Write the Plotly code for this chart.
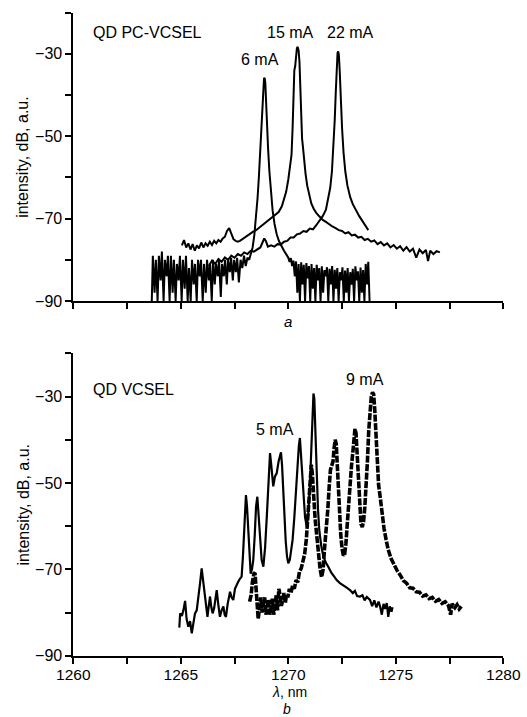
import plotly.graph_objects as go

# ---------------- Panel a: QD PC-VCSEL ----------------
x6 = [1263.65, 1263.70, 1263.78, 1263.84, 1263.92, 1263.98, 1264.06, 1264.12,
      1264.20, 1264.26, 1264.34, 1264.40, 1264.48, 1264.54, 1264.62, 1264.68,
      1264.76, 1264.82, 1264.90, 1264.96, 1265.04, 1265.10, 1265.18, 1265.24,
      1265.32, 1265.38, 1265.46, 1265.52, 1265.60, 1265.66, 1265.74, 1265.80,
      1265.88, 1265.94, 1266.02, 1266.08, 1266.16, 1266.22, 1266.30, 1266.36,
      1266.44, 1266.50, 1266.58, 1266.64, 1266.72, 1266.78, 1266.86, 1266.92,
      1267.00, 1267.06, 1267.14, 1267.20, 1267.28, 1267.34, 1267.42, 1267.48,
      1267.56, 1267.62, 1267.70, 1267.78, 1267.86, 1267.94, 1268.02, 1268.10,
      1268.18, 1268.26, 1268.34, 1268.42, 1268.50,
      1268.57, 1268.63, 1268.69, 1268.74, 1268.79, 1268.83, 1268.87, 1268.90,
      1268.93, 1268.97, 1269.01, 1269.06, 1269.12, 1269.19, 1269.27, 1269.36,
      1269.46, 1269.57, 1269.68, 1269.80, 1269.92,
      1270.00, 1270.06, 1270.12, 1270.18, 1270.24, 1270.30, 1270.36, 1270.42,
      1270.48, 1270.54, 1270.60, 1270.66, 1270.72, 1270.78, 1270.84, 1270.90,
      1270.96, 1271.02, 1271.08, 1271.14, 1271.20, 1271.26, 1271.32, 1271.38,
      1271.44, 1271.50, 1271.56, 1271.62, 1271.68, 1271.74, 1271.80, 1271.86,
      1271.92, 1271.98, 1272.04, 1272.10, 1272.16, 1272.22, 1272.28, 1272.34,
      1272.40, 1272.46, 1272.52, 1272.58, 1272.64, 1272.70, 1272.76, 1272.82,
      1272.88, 1272.94, 1273.00, 1273.06, 1273.12, 1273.18, 1273.24, 1273.30,
      1273.36, 1273.42, 1273.48, 1273.54, 1273.60, 1273.66, 1273.72, 1273.78]
y6 = [-90, -79, -88, -80, -90, -79, -85, -78,
      -90, -80, -84, -79, -90, -79, -88, -80,
      -90, -81, -85, -79, -90, -80, -87, -79,
      -90, -82, -90, -80, -86, -81, -90, -80,
      -84, -80, -90, -81, -88, -80, -85, -81,
      -90, -80, -86, -81, -84, -80, -89, -81,
      -84, -80, -86, -80, -83, -79.5, -85, -80,
      -83, -79.5, -85.5, -80, -82, -79, -81.5, -79.5,
      -80, -78.5, -77, -74, -70,
      -65, -60, -54, -48.5, -43, -38.5, -36, -35.8,
      -37, -42, -48, -53, -58.5, -63.5, -68, -71.3,
      -73.8, -75.5, -76.8, -77.8, -78.8,
      -79.5, -80.5, -79.6, -81.5, -80.2, -84.0, -80.4, -88.0,
      -81.0, -90, -80.6, -86, -81.2, -90, -80.8, -84.5,
      -81.5, -90, -81.0, -87, -82.0, -90, -81.2, -85,
      -82.0, -90, -81.6, -88, -82.5, -84, -81.8, -90,
      -82.2, -86, -81.5, -90, -82.4, -87, -82.0, -90,
      -83.0, -85, -81.8, -90, -82.6, -88, -82.0, -90,
      -83.0, -86, -82.2, -90, -81.6, -85, -82.8, -90,
      -81.9, -88, -82.5, -90, -81.0, -86, -80.5, -90]

x15 = [1265.05, 1265.15, 1265.25, 1265.35, 1265.45, 1265.55, 1265.65, 1265.75, 1265.85, 1265.95,
       1266.05, 1266.15, 1266.25, 1266.35, 1266.45, 1266.55, 1266.65, 1266.75, 1266.85, 1266.95,
       1267.05, 1267.15, 1267.25, 1267.35, 1267.45, 1267.55, 1267.65, 1267.75, 1267.85, 1267.95,
       1268.05,
       1268.2, 1268.35, 1268.5, 1268.65, 1268.8, 1268.95, 1269.1, 1269.25, 1269.4, 1269.55, 1269.7,
       1269.8, 1269.9, 1270.0, 1270.08, 1270.15, 1270.2, 1270.24, 1270.28, 1270.32, 1270.36,
       1270.4, 1270.44, 1270.48, 1270.52, 1270.56, 1270.6, 1270.64, 1270.68, 1270.73, 1270.8,
       1270.88, 1270.97, 1271.07, 1271.18, 1271.3,
       1271.45, 1271.6, 1271.75, 1271.9, 1272.05, 1272.2, 1272.35, 1272.5, 1272.65, 1272.8,
       1272.95, 1273.1, 1273.25, 1273.4, 1273.55, 1273.7, 1273.85, 1274.0, 1274.15, 1274.3,
       1274.45, 1274.6, 1274.75, 1274.9, 1275.05, 1275.2, 1275.35, 1275.5, 1275.65, 1275.8,
       1275.95, 1276.1, 1276.25, 1276.4,
       1276.5, 1276.6, 1276.75, 1276.9, 1277.05]
y15 = [-76.5, -75.2, -77.0, -76.0, -77.5, -76.2, -77.8, -76.5, -77.2, -75.8,
       -77.0, -76.0, -76.6, -75.6, -76.4, -75.4, -76.0, -75.2, -75.6, -74.8,
       -74.4, -73.0, -72.3, -73.8, -75.0, -75.4, -75.6, -75.4, -75.0, -74.6,
       -74.4,
       -73.6, -73.2, -72.8, -72.2, -71.4, -70.8, -70.3, -69.8, -69.2, -68.4, -67.0,
       -65.5, -63.5, -60.5, -57.5, -54.5, -48, -40, -34, -33, -30.5,
       -28.6, -28.3, -29.2, -32, -39, -46, -50.5, -52.5, -55.5, -59,
       -62, -64.5, -66.3, -67.6, -68.6,
       -69.5, -70.3, -70.8, -71.4, -71.9, -72.3, -72.8, -73.0, -73.6, -73.3,
       -74.1, -73.9, -74.6, -74.4, -75.2, -74.9, -75.6, -75.3, -76.2, -75.7,
       -76.5, -76.0, -77.0, -76.4, -77.3, -76.7, -77.8, -76.9, -78.0, -77.3,
       -79.5, -77.5, -78.4, -77.6,
       -80.3, -77.8, -78.6, -77.9, -78.2]

x22 = [1266.3, 1266.45, 1266.6, 1266.75, 1266.9, 1267.05, 1267.2, 1267.35, 1267.5, 1267.65,
       1267.8, 1267.95, 1268.1, 1268.25, 1268.4, 1268.55, 1268.7,
       1268.8, 1268.88, 1268.96, 1269.05,
       1269.2, 1269.35, 1269.5, 1269.65, 1269.8, 1269.95, 1270.1, 1270.25, 1270.4, 1270.55,
       1270.7, 1270.85, 1271.0, 1271.15, 1271.3, 1271.45, 1271.6, 1271.75,
       1271.85, 1271.95, 1272.03, 1272.1, 1272.16, 1272.21, 1272.25, 1272.29, 1272.32, 1272.35,
       1272.39, 1272.44, 1272.5, 1272.57, 1272.65, 1272.75, 1272.88, 1273.0, 1273.15, 1273.3,
       1273.45, 1273.6, 1273.72]
y22 = [-81.5, -80.2, -81.0, -79.8, -80.5, -79.4, -80.0, -79.0, -79.5, -78.6,
       -79.0, -78.2, -78.6, -77.8, -78.0, -77.4, -77.0,
       -75.8, -74.8, -75.5, -76.8,
       -76.5, -76.8, -76.2, -76.3, -75.6, -75.4, -74.6, -74.6, -73.8, -73.6,
       -73.0, -73.2, -72.4, -72.6, -71.6, -70.6, -69.4, -67.8,
       -65.5, -62.5, -58.5, -53.0, -46.0, -39.0, -33.0, -29.8, -29.4, -30.2,
       -34.0, -41.0, -48.0, -54.0, -58.5, -62.0, -64.8, -66.5, -68.0, -69.4,
       -70.6, -71.8, -72.8]

# ---------------- Panel b: QD VCSEL ----------------
x5 = [1264.93, 1264.97, 1265.05, 1265.12, 1265.20, 1265.27, 1265.35, 1265.43, 1265.51, 1265.58,
      1265.66, 1265.74, 1265.81, 1265.90, 1265.97, 1266.05, 1266.13, 1266.19, 1266.24, 1266.30,
      1266.36, 1266.42, 1266.48, 1266.55, 1266.61, 1266.67, 1266.74, 1266.82, 1266.90, 1266.98,
      1267.04, 1267.10, 1267.18, 1267.24, 1267.29, 1267.36, 1267.44, 1267.52, 1267.60, 1267.67,
      1267.75, 1267.83, 1267.89, 1267.94, 1267.99, 1268.03, 1268.08, 1268.14, 1268.20, 1268.25,
      1268.31, 1268.37, 1268.44, 1268.50, 1268.56, 1268.62, 1268.68, 1268.76, 1268.84, 1268.92,
      1269.00, 1269.07, 1269.12, 1269.15, 1269.20, 1269.25, 1269.30, 1269.38, 1269.46, 1269.55,
      1269.62, 1269.66, 1269.71, 1269.76, 1269.81, 1269.88, 1269.94, 1270.00, 1270.07, 1270.14,
      1270.20, 1270.28, 1270.36, 1270.43, 1270.49, 1270.54, 1270.59, 1270.64, 1270.70, 1270.78,
      1270.86, 1270.93, 1271.01, 1271.07, 1271.12, 1271.17, 1271.21, 1271.26, 1271.32, 1271.38,
      1271.44, 1271.53, 1271.63, 1271.75, 1271.86, 1272.00, 1272.12, 1272.25, 1272.40, 1272.55,
      1272.70, 1272.87, 1273.00, 1273.10, 1273.20, 1273.33, 1273.45, 1273.55, 1273.65, 1273.80,
      1273.90, 1274.00, 1274.10, 1274.20, 1274.27, 1274.35, 1274.43, 1274.50, 1274.58, 1274.65,
      1274.72, 1274.80, 1274.85]
y5 = [-83.5, -80.2, -80.8, -79.5, -77.3, -81.5, -83.3, -82.0, -84.8, -82.5,
      -80.2, -79.5, -77.1, -73.0, -69.8, -73.5, -77.1, -79.5, -81.0, -78.5,
      -76.3, -78.8, -80.2, -79.0, -76.5, -74.8, -78.0, -81.0, -79.5, -78.6,
      -80.5, -81.0, -78.0, -76.2, -75.2, -76.5, -77.1, -74.5, -73.5, -72.9,
      -72.2, -71.7, -67.0, -61.7, -55.0, -52.8, -55.5, -61.7, -67.5, -71.0,
      -70.0, -67.9, -62.0, -55.5, -53.2, -57.5, -63.2, -67.8, -69.4, -65.0,
      -57.8, -49.0, -44.5, -43.1, -45.5, -49.5, -50.8, -48.5, -47.8, -45.0,
      -43.3, -42.9, -46.0, -52.0, -57.8, -63.5, -67.0, -68.6, -67.8, -65.8,
      -63.2, -58.0, -50.8, -46.0, -41.5, -39.6, -43.5, -49.0, -54.0, -58.0,
      -60.1, -57.0, -50.0, -41.0, -33.0, -29.3, -30.5, -38.0, -49.3, -56.0,
      -60.9, -64.5, -67.0, -68.5, -69.4, -70.8, -71.6, -72.5, -73.2, -73.8,
      -74.2, -74.8, -75.5, -75.0, -76.2, -76.3, -76.0, -77.2, -76.4, -77.1,
      -78.5, -77.2, -78.8, -77.5, -78.6, -80.5, -78.0, -79.2, -77.8, -81.0,
      -78.6, -79.8, -78.8]

x9 = [1268.20, 1268.27, 1268.33, 1268.40, 1268.45, 1268.50, 1268.55, 1268.60, 1268.66, 1268.72,
      1268.78, 1268.84, 1268.90, 1268.96, 1269.02, 1269.08, 1269.14, 1269.20, 1269.26, 1269.32,
      1269.38, 1269.44, 1269.50, 1269.56, 1269.62, 1269.68, 1269.74, 1269.80, 1269.86, 1269.92,
      1269.98, 1270.05, 1270.12, 1270.20, 1270.28, 1270.36, 1270.44, 1270.52, 1270.60, 1270.68,
      1270.76, 1270.84, 1270.90, 1270.96, 1271.02, 1271.07, 1271.12, 1271.18, 1271.25, 1271.32,
      1271.40, 1271.48, 1271.55, 1271.62, 1271.68, 1271.74, 1271.79, 1271.84, 1271.90, 1271.96,
      1272.02, 1272.08, 1272.13, 1272.18, 1272.23, 1272.28, 1272.33, 1272.38, 1272.44, 1272.50,
      1272.56, 1272.62, 1272.68, 1272.75, 1272.82, 1272.88, 1272.94, 1273.00, 1273.05, 1273.10,
      1273.15, 1273.20, 1273.26, 1273.32, 1273.38, 1273.44, 1273.50, 1273.56, 1273.62, 1273.68,
      1273.74, 1273.80, 1273.86, 1273.92, 1273.97, 1274.02, 1274.08, 1274.14, 1274.20, 1274.28,
      1274.36, 1274.45, 1274.55, 1274.65, 1274.78, 1274.90, 1275.05, 1275.20, 1275.35, 1275.50,
      1275.65, 1275.80, 1275.95, 1276.10, 1276.25, 1276.40, 1276.55, 1276.70, 1276.85, 1277.00,
      1277.15, 1277.30, 1277.45, 1277.55, 1277.62, 1277.75, 1277.85, 1277.95, 1278.05]
y9 = [-77.5, -76.0, -73.0, -71.0, -70.8, -74.5, -78.5, -81.5, -79.0, -76.5,
      -80.0, -78.5, -76.5, -80.5, -79.0, -77.0, -80.5, -78.5, -76.8, -80.5,
      -78.8, -76.0, -79.5, -74.5, -76.0, -78.5, -77.0, -75.5, -77.8, -75.8,
      -76.5, -74.5, -75.5, -73.8, -74.5, -72.5, -73.0, -70.5, -69.8, -68.5,
      -66.5, -63.0, -58.0, -52.0, -47.5, -45.8, -48.0, -53.5, -58.5, -62.0,
      -66.5, -70.0, -71.8, -70.0, -65.5, -62.0, -60.0, -56.0, -51.0, -47.0,
      -46.0, -45.0, -42.0, -40.0, -41.0, -46.0, -52.0, -57.5, -62.0, -65.2,
      -66.8, -66.5, -64.0, -59.0, -53.0, -48.0, -46.0, -43.0, -39.0, -37.5,
      -38.5, -43.0, -50.0, -56.5, -59.5, -60.2, -59.0, -55.5, -51.0, -45.0,
      -38.0, -33.0, -30.0, -29.0, -29.5, -33.0, -40.0, -46.5, -50.5, -53.5,
      -57.5, -60.5, -63.2, -65.5, -67.5, -68.8, -70.2, -71.3, -72.6, -73.2,
      -74.3, -74.4, -75.2, -75.3, -76.2, -75.9, -76.8, -76.5, -77.4, -77.0,
      -77.9, -77.5, -78.4, -80.5, -78.0, -78.9, -78.2, -79.2, -78.6]

yticks = [-90, -70, -50, -30]
xticks = [1260, 1265, 1270, 1275, 1280]

FONT = "Liberation Sans, Arial, Helvetica, sans-serif"
W, H = 527, 717
xdom = [73.3 / W, 503.3 / W]
ydom_a = [1 - 301.0 / H, 1 - 12.7 / H]
ydom_b = [1 - 655.7 / H, 1 - 353.3 / H]

fig = go.Figure()
line_a = dict(color="black", width=2.0)
fig.add_trace(go.Scatter(x=x6, y=y6, mode="lines", line=line_a, xaxis="x", yaxis="y"))
fig.add_trace(go.Scatter(x=x15, y=y15, mode="lines", line=line_a, xaxis="x", yaxis="y"))
fig.add_trace(go.Scatter(x=x22, y=y22, mode="lines", line=line_a, xaxis="x", yaxis="y"))
fig.add_trace(go.Scatter(x=x5, y=y5, mode="lines", line=dict(color="black", width=2.2),
                         xaxis="x2", yaxis="y2"))
fig.add_trace(go.Scatter(x=x9, y=y9, mode="lines",
                         line=dict(color="black", width=3.6, dash="7px,1.5px"),
                         xaxis="x2", yaxis="y2"))

axis_common = dict(showline=True, linecolor="black", linewidth=1.8, ticks="outside",
                   ticklen=6, tickwidth=1.5, tickcolor="black", showgrid=False,
                   zeroline=False, automargin=False,
                   tickfont=dict(family=FONT, size=16, color="black"))
xcommon = dict(axis_common, range=[1260, 1280], tickvals=xticks, domain=xdom,
               minor=dict(dtick=2.5, tick0=1260, ticks="outside", ticklen=6,
                          tickwidth=1.5, tickcolor="black", showgrid=False))
ycommon = dict(axis_common, range=[-90, -20], tickvals=yticks,
               minor=dict(dtick=10, tick0=-90, ticks="outside", ticklen=6,
                          tickwidth=1.5, tickcolor="black", showgrid=False))

fig.update_layout(
    width=W, height=H, margin=dict(l=0, r=0, t=0, b=0, autoexpand=False),
    paper_bgcolor="white", plot_bgcolor="white", showlegend=False,
    font=dict(family=FONT, size=16, color="black"),
    xaxis=dict(xcommon, anchor="y", showticklabels=False),
    yaxis=dict(ycommon, anchor="x", domain=ydom_a),
    xaxis2=dict(xcommon, anchor="y2", showticklabels=True, ticklabelstandoff=-2,
                tickfont=dict(family=FONT, size=15.5, color="black")),
    yaxis2=dict(ycommon, anchor="x2", domain=ydom_b),
)

def ann(text, x, y, xref, yref, size=16, **kw):
    d = dict(text=text, x=x, y=y, xref=xref, yref=yref, showarrow=False,
             font=dict(family=FONT, size=size, color="black"),
             xanchor="center", yanchor="middle", borderpad=0)
    d.update(kw)
    fig.add_annotation(**d)

# panel a labels
ann("QD PC-VCSEL", 1260.87, -24.9, "x", "y", xanchor="left")
ann("15 mA", 1270.1, -24.9, "x", "y")
ann("22 mA", 1272.89, -24.9, "x", "y")
ann("6 mA", 1268.68, -31.4, "x", "y")
# panel b labels
ann("QD VCSEL", 1260.87, -28.4, "x2", "y2", xanchor="left")
ann("9 mA", 1273.57, -26.1, "x2", "y2")
ann("5 mA", 1269.38, -37.7, "x2", "y2")
# axis titles and panel letters
ann("intensity, dB, a.u.", 23 / W, sum(ydom_a) / 2, "paper", "paper", textangle=-90)
ann("intensity, dB, a.u.", 23 / W, sum(ydom_b) / 2, "paper", "paper", textangle=-90)
ann("<i>a</i>", 288 / W, 1 - 321.7 / H, "paper", "paper", size=15)
ann("<i>λ</i>, nm", 289 / W, 1 - 692.0 / H, "paper", "paper", size=14)
ann("<i>b</i>", 287 / W, 1 - 708.5 / H, "paper", "paper", size=14)

fig.write_html(
    "out.html",
    config={"displayModeBar": False},
    post_script="document.body.style.margin='0px';document.body.style.overflow='hidden';",
)
